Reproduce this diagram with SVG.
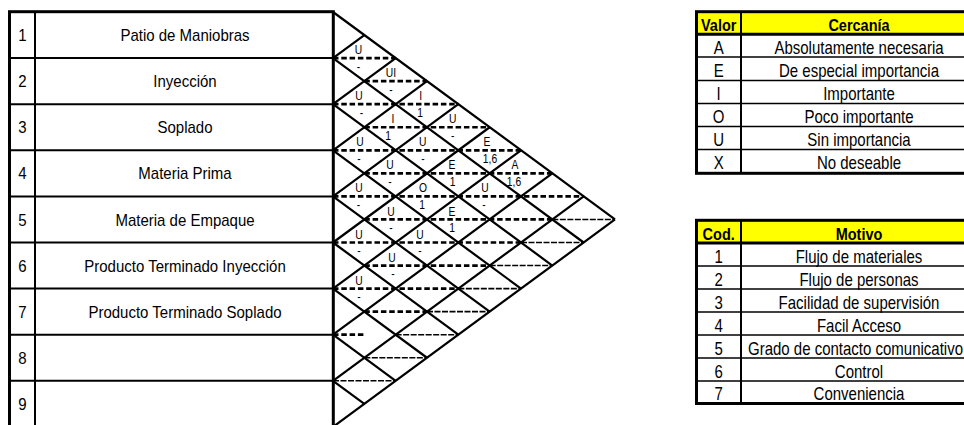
<svg xmlns="http://www.w3.org/2000/svg" width="964" height="425" viewBox="0 0 964 425">
<style>
  text { font-family: "Liberation Sans", Arial, sans-serif; fill: #000; text-anchor: middle; }
  .lt { font-size: 15px; }
  .hd { font-size: 14.5px; font-weight: bold; }
  .sm { font-size: 10.3px; }
  .thick { fill: none; stroke: #000; stroke-width: 3; }
  .thin { stroke: #000; stroke-width: 2; fill: none; }
  .hair { stroke: #000; stroke-width: 1.5; fill: none; }
  .diag { stroke: #000; stroke-width: 2.2; }
  .dk { stroke: #000; stroke-width: 2.7; stroke-dasharray: 5.5 2.8; }
  .fn { stroke: #000; stroke-width: 1.6; stroke-dasharray: 6 1.5; }
  .hdr { fill: #FFFF00; }
</style>
<rect width="964" height="425" fill="#fff"/>

<!-- Departments table -->
<g id="departments">
  <rect class="thick" x="9.5" y="11.7" width="323.8" height="416"/>
  <line class="thin" x1="35" y1="11.7" x2="35" y2="428"/>
  <g id="dept-1"><line class="thin" x1="9.5" y1="58.1" x2="333" y2="58.1"/>
    <text class="lt" transform="translate(22.5 41) scale(1 1.13)">1</text>
    <text class="lt" transform="translate(185 41) scale(1 1.13)">Patio de Maniobras</text></g>
  <g id="dept-2"><line class="thin" x1="9.5" y1="104.2" x2="333" y2="104.2"/>
    <text class="lt" transform="translate(22.5 87.2) scale(1 1.13)">2</text>
    <text class="lt" transform="translate(185 87.2) scale(1 1.13)">Inyección</text></g>
  <g id="dept-3"><line class="thin" x1="9.5" y1="150.3" x2="333" y2="150.3"/>
    <text class="lt" transform="translate(22.5 133.3) scale(1 1.13)">3</text>
    <text class="lt" transform="translate(185 133.3) scale(1 1.13)">Soplado</text></g>
  <g id="dept-4"><line class="thin" x1="9.5" y1="196.4" x2="333" y2="196.4"/>
    <text class="lt" transform="translate(22.5 179.4) scale(1 1.13)">4</text>
    <text class="lt" transform="translate(185 179.4) scale(1 1.13)">Materia Prima</text></g>
  <g id="dept-5"><line class="thin" x1="9.5" y1="242.5" x2="333" y2="242.5"/>
    <text class="lt" transform="translate(22.5 225.5) scale(1 1.13)">5</text>
    <text class="lt" transform="translate(185 225.5) scale(1 1.13)">Materia de Empaque</text></g>
  <g id="dept-6"><line class="thin" x1="9.5" y1="288.6" x2="333" y2="288.6"/>
    <text class="lt" transform="translate(22.5 271.6) scale(1 1.13)">6</text>
    <text class="lt" transform="translate(185 271.6) scale(1 1.13)">Producto Terminado Inyección</text></g>
  <g id="dept-7"><line class="thin" x1="9.5" y1="334.7" x2="333" y2="334.7"/>
    <text class="lt" transform="translate(22.5 317.7) scale(1 1.13)">7</text>
    <text class="lt" transform="translate(185 317.7) scale(1 1.13)">Producto Terminado Soplado</text></g>
  <g id="dept-8"><line class="thin" x1="9.5" y1="380.8" x2="333" y2="380.8"/>
    <text class="lt" transform="translate(22.5 363.8) scale(1 1.13)">8</text></g>
  <g id="dept-9">
    <text class="lt" transform="translate(22.5 409.9) scale(1 1.13)">9</text></g>
</g>

<!-- Relationship matrix grid (connectors) -->
<g id="connectors">
  <g id="diag-down">
    <line class="diag" x1="333" y1="12" x2="615" y2="219.45"/>
    <line class="diag" x1="333" y1="58.1" x2="583.67" y2="242.5"/>
    <line class="diag" x1="333" y1="104.2" x2="552.33" y2="265.55"/>
    <line class="diag" x1="333" y1="150.3" x2="521" y2="288.6"/>
    <line class="diag" x1="333" y1="196.4" x2="489.67" y2="311.65"/>
    <line class="diag" x1="333" y1="242.5" x2="458.33" y2="334.7"/>
    <line class="diag" x1="333" y1="288.6" x2="427" y2="357.75"/>
    <line class="diag" x1="333" y1="334.7" x2="395.67" y2="380.8"/>
    <line class="diag" x1="333" y1="380.8" x2="364.33" y2="403.85"/>
  </g>
  <g id="diag-up">
    <line class="diag" x1="333" y1="58.1" x2="364.33" y2="35.05"/>
    <line class="diag" x1="333" y1="104.2" x2="395.67" y2="58.1"/>
    <line class="diag" x1="333" y1="150.3" x2="427" y2="81.15"/>
    <line class="diag" x1="333" y1="196.4" x2="458.33" y2="104.2"/>
    <line class="diag" x1="333" y1="242.5" x2="489.67" y2="127.25"/>
    <line class="diag" x1="333" y1="288.6" x2="521" y2="150.3"/>
    <line class="diag" x1="333" y1="334.7" x2="552.33" y2="173.35"/>
    <line class="diag" x1="333" y1="380.8" x2="583.67" y2="196.4"/>
    <line class="diag" x1="333" y1="426.9" x2="615" y2="219.45"/>
  </g>
  <g id="dividers">
    <line class="dk" x1="333" y1="58.1" x2="395.67" y2="58.1"/>
    <line class="dk" x1="364.33" y1="81.15" x2="427" y2="81.15"/>
    <line class="dk" x1="333" y1="104.2" x2="458.33" y2="104.2"/>
    <line class="dk" x1="364.33" y1="127.25" x2="489.67" y2="127.25"/>
    <line class="dk" x1="333" y1="150.3" x2="521" y2="150.3"/>
    <line class="dk" x1="364.33" y1="173.35" x2="552.33" y2="173.35"/>
    <line class="dk" x1="333" y1="196.4" x2="583.67" y2="196.4"/>
    <line class="dk" x1="364.33" y1="219.45" x2="552.33" y2="219.45"/>
    <line class="fn" x1="552.33" y1="219.45" x2="615" y2="219.45"/>
    <line class="dk" x1="333" y1="242.5" x2="521" y2="242.5"/>
    <line class="fn" x1="521" y1="242.5" x2="583.67" y2="242.5"/>
    <line class="dk" x1="364.33" y1="265.55" x2="489.67" y2="265.55"/>
    <line class="fn" x1="489.67" y1="265.55" x2="552.33" y2="265.55"/>
    <line class="dk" x1="333" y1="288.6" x2="458.33" y2="288.6"/>
    <line class="fn" x1="458.33" y1="288.6" x2="521" y2="288.6"/>
    <line class="dk" x1="364.33" y1="311.65" x2="427" y2="311.65"/>
    <line class="fn" x1="427" y1="311.65" x2="489.67" y2="311.65"/>
    <line class="dk" x1="333" y1="334.7" x2="365" y2="334.7"/>
    <line class="fn" x1="395.67" y1="334.7" x2="458.33" y2="334.7"/>
    <line class="fn" x1="364.33" y1="357.75" x2="427" y2="357.75"/>
    <line class="fn" x1="333" y1="380.8" x2="395.67" y2="380.8"/>
  </g>
</g>

<!-- Ratings in diamond cells -->
<g id="ratings">
  <g id="r-1-2"><text class="sm" transform="translate(358.5 54.1) scale(1 1.3)">U</text><text class="sm" transform="translate(358.5 70.6) scale(1 1.3)">-</text></g>
  <g id="r-1-3"><text class="sm" transform="translate(391 77.2) scale(1 1.3)">UI</text><text class="sm" transform="translate(391 93.6) scale(1 1.3)">-</text></g>
  <g id="r-2-3"><text class="sm" transform="translate(359 100.2) scale(1 1.3)">U</text><text class="sm" transform="translate(361.5 116.7) scale(1 1.3)">-</text></g>
  <g id="r-1-4"><text class="sm" transform="translate(420.7 100.2) scale(1 1.3)">I</text><text class="sm" transform="translate(420 116.7) scale(1 1.3)">1</text></g>
  <g id="r-2-4"><text class="sm" transform="translate(393 123.2) scale(1 1.3)">I</text><text class="sm" transform="translate(388 139.7) scale(1 1.3)">1</text></g>
  <g id="r-1-5"><text class="sm" transform="translate(452.7 123.2) scale(1 1.3)">U</text><text class="sm" transform="translate(452.7 139.7) scale(1 1.3)">-</text></g>
  <g id="r-3-4"><text class="sm" transform="translate(360 146.3) scale(1 1.3)">U</text><text class="sm" transform="translate(359 162.8) scale(1 1.3)">-</text></g>
  <g id="r-2-5"><text class="sm" transform="translate(422.7 146.3) scale(1 1.3)">U</text><text class="sm" transform="translate(423 162.8) scale(1 1.3)">-</text></g>
  <g id="r-1-6"><text class="sm" transform="translate(487 146.3) scale(1 1.3)">E</text><text class="sm" transform="translate(490 162.8) scale(1 1.3)">1,6</text></g>
  <g id="r-3-5"><text class="sm" transform="translate(390 169.4) scale(1 1.3)">U</text><text class="sm" transform="translate(390 185.9) scale(1 1.3)">-</text></g>
  <g id="r-2-6"><text class="sm" transform="translate(452 169.4) scale(1 1.3)">E</text><text class="sm" transform="translate(452.7 185.9) scale(1 1.3)">1</text></g>
  <g id="r-1-7"><text class="sm" transform="translate(515 169.4) scale(1 1.3)">A</text><text class="sm" transform="translate(514 185.9) scale(1 1.3)">1,6</text></g>
  <g id="r-4-5"><text class="sm" transform="translate(359 192.4) scale(1 1.3)">U</text><text class="sm" transform="translate(358.5 208.9) scale(1 1.3)">-</text></g>
  <g id="r-3-6"><text class="sm" transform="translate(423 192.4) scale(1 1.3)">O</text><text class="sm" transform="translate(422 208.9) scale(1 1.3)">1</text></g>
  <g id="r-2-7"><text class="sm" transform="translate(485 192.4) scale(1 1.3)">U</text><text class="sm" transform="translate(484 208.9) scale(1 1.3)">-</text></g>
  <g id="r-4-6"><text class="sm" transform="translate(391 215.5) scale(1 1.3)">U</text><text class="sm" transform="translate(391 232) scale(1 1.3)">-</text></g>
  <g id="r-3-7"><text class="sm" transform="translate(452 215.5) scale(1 1.3)">E</text><text class="sm" transform="translate(452 232) scale(1 1.3)">1</text></g>
  <g id="r-5-6"><text class="sm" transform="translate(359 238.5) scale(1 1.3)">U</text><text class="sm" transform="translate(359 255) scale(1 1.3)">-</text></g>
  <g id="r-4-7"><text class="sm" transform="translate(420 238.5) scale(1 1.3)">U</text><text class="sm" transform="translate(420 255) scale(1 1.3)">-</text></g>
  <g id="r-5-7"><text class="sm" transform="translate(392 261.6) scale(1 1.3)">U</text><text class="sm" transform="translate(393 278) scale(1 1.3)">-</text></g>
  <g id="r-6-7"><text class="sm" transform="translate(359 284.6) scale(1 1.3)">U</text><text class="sm" transform="translate(359 301) scale(1 1.3)">-</text></g>
</g>

<!-- Legend: Cercanía -->
<g id="legend-cercania">
  <rect class="hdr" x="696.5" y="11.7" width="290" height="22.5"/>
  <line class="hair" x1="696.5" y1="57" x2="990" y2="57"/>
  <line class="hair" x1="696.5" y1="80.5" x2="990" y2="80.5"/>
  <line class="hair" x1="696.5" y1="103.5" x2="990" y2="103.5"/>
  <line class="hair" x1="696.5" y1="126.5" x2="990" y2="126.5"/>
  <line class="hair" x1="696.5" y1="149.5" x2="990" y2="149.5"/>
  <line class="thick" x1="696.5" y1="34.2" x2="990" y2="34.2"/>
  <line class="thin" x1="741" y1="11.7" x2="741" y2="173.3"/>
  <rect class="thick" x="696.5" y="11.7" width="300" height="161.6"/>
  <text class="hd" transform="translate(718.7 30.7) scale(1 1.12)">Valor</text>
  <text class="hd" transform="translate(859 30.7) scale(1 1.12)">Cercanía</text>
  <text class="lt" transform="translate(718.7 54) scale(1 1.25)">A</text>
  <text class="lt" transform="translate(859 54) scale(1 1.25)">Absolutamente necesaria</text>
  <text class="lt" transform="translate(718.7 77) scale(1 1.25)">E</text>
  <text class="lt" transform="translate(859 77) scale(1 1.25)">De especial importancia</text>
  <text class="lt" transform="translate(718.7 100) scale(1 1.25)">I</text>
  <text class="lt" transform="translate(859 100) scale(1 1.25)">Importante</text>
  <text class="lt" transform="translate(718.7 123) scale(1 1.25)">O</text>
  <text class="lt" transform="translate(859 123) scale(1 1.25)">Poco importante</text>
  <text class="lt" transform="translate(718.7 146) scale(1 1.25)">U</text>
  <text class="lt" transform="translate(859 146) scale(1 1.25)">Sin importancia</text>
  <text class="lt" transform="translate(718.7 169.3) scale(1 1.25)">X</text>
  <text class="lt" transform="translate(859 169.3) scale(1 1.25)">No deseable</text>
</g>

<!-- Legend: Motivo -->
<g id="legend-motivo">
  <rect class="hdr" x="696.5" y="220.3" width="290" height="22.7"/>
  <line class="hair" x1="696.5" y1="266" x2="990" y2="266"/>
  <line class="hair" x1="696.5" y1="289" x2="990" y2="289"/>
  <line class="hair" x1="696.5" y1="312" x2="990" y2="312"/>
  <line class="hair" x1="696.5" y1="335" x2="990" y2="335"/>
  <line class="hair" x1="696.5" y1="358" x2="990" y2="358"/>
  <line class="hair" x1="696.5" y1="381" x2="990" y2="381"/>
  <line class="thick" x1="696.5" y1="243" x2="990" y2="243"/>
  <line class="thin" x1="741" y1="220.3" x2="741" y2="403.5"/>
  <rect class="thick" x="696.5" y="220.3" width="300" height="183.2"/>
  <text class="hd" transform="translate(718.7 239.5) scale(1 1.12)">Cod.</text>
  <text class="hd" transform="translate(859 239.5) scale(1 1.12)">Motivo</text>
  <text class="lt" transform="translate(718.7 262.5) scale(1 1.25)">1</text>
  <text class="lt" transform="translate(859 262.5) scale(1 1.25)">Flujo de materiales</text>
  <text class="lt" transform="translate(718.7 285.5) scale(1 1.25)">2</text>
  <text class="lt" transform="translate(859 285.5) scale(1 1.25)">Flujo de personas</text>
  <text class="lt" transform="translate(718.7 308.5) scale(1 1.25)">3</text>
  <text class="lt" transform="translate(859 308.5) scale(1 1.25)">Facilidad de supervisión</text>
  <text class="lt" transform="translate(718.7 331.5) scale(1 1.25)">4</text>
  <text class="lt" transform="translate(859 331.5) scale(1 1.25)">Facil Acceso</text>
  <text class="lt" transform="translate(718.7 354.5) scale(1 1.25)">5</text>
  <text class="lt" transform="translate(855.5 354.5) scale(1 1.25)">Grado de contacto comunicativo</text>
  <text class="lt" transform="translate(718.7 377.5) scale(1 1.25)">6</text>
  <text class="lt" transform="translate(859 377.5) scale(1 1.25)">Control</text>
  <text class="lt" transform="translate(718.7 400.3) scale(1 1.25)">7</text>
  <text class="lt" transform="translate(859 400.3) scale(1 1.25)">Conveniencia</text>
</g>
</svg>
